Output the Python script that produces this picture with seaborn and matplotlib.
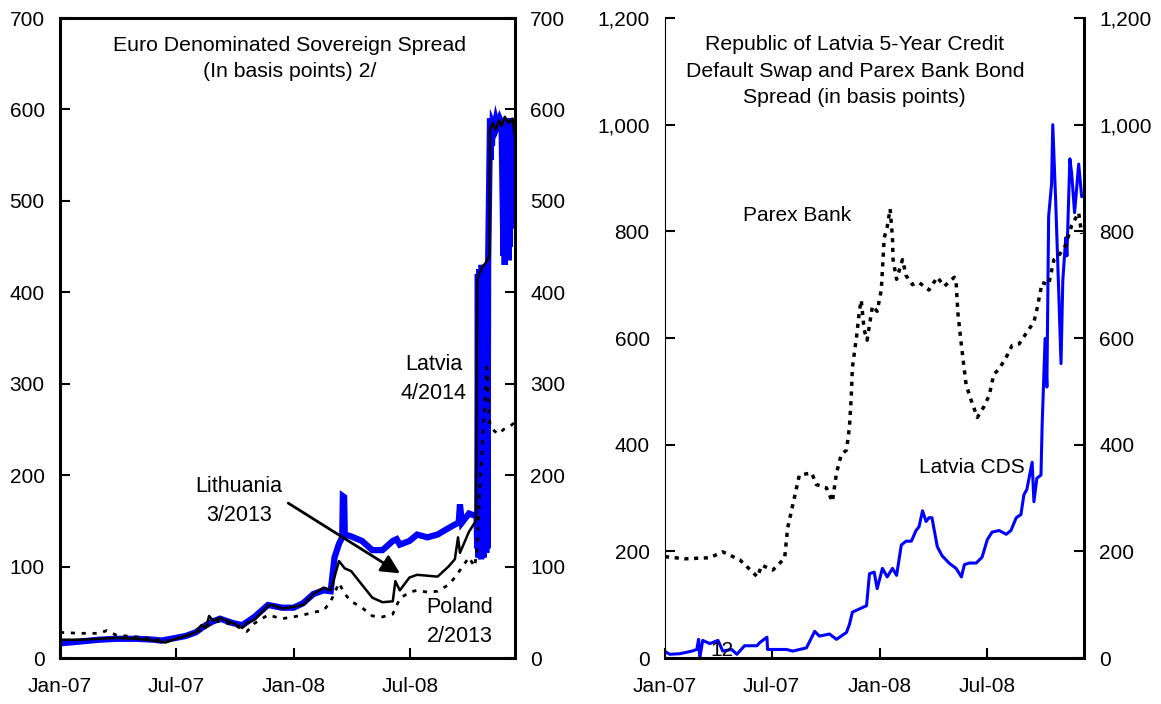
import pandas as pd
import matplotlib.pyplot as plt
import matplotlib.dates as mdates
from matplotlib.ticker import FuncFormatter
import seaborn as sns

# Left panel: euro denominated sovereign spreads (basis points)
lv_dates = [
    "2007-01-01", "2007-02-01", "2007-03-03", "2007-03-30", "2007-05-01", "2007-05-28", "2007-06-08", "2007-07-01", "2007-07-16", "2007-08-01",
    "2007-08-17", "2007-08-28", "2007-09-08", "2007-09-29", "2007-10-13", "2007-11-01", "2007-11-22", "2007-12-14", "2008-01-01", "2008-01-16",
    "2008-02-01", "2008-02-17", "2008-02-28", "2008-03-05", "2008-03-12", "2008-03-17", "2008-03-18", "2008-03-20", "2008-03-21", "2008-03-31",
    "2008-04-17", "2008-05-03", "2008-05-19", "2008-06-04", "2008-06-10", "2008-06-15", "2008-06-30", "2008-07-12", "2008-07-28", "2008-08-13",
    "2008-08-30", "2008-09-09", "2008-09-15", "2008-09-17", "2008-09-20", "2008-10-01", "2008-10-13", "2008-10-14", "2008-10-15", "2008-10-16",
    "2008-10-17", "2008-10-20", "2008-10-21", "2008-10-22", "2008-10-23", "2008-10-24", "2008-10-27", "2008-10-28", "2008-10-29", "2008-10-30",
    "2008-10-31", "2008-11-03", "2008-11-04", "2008-11-05", "2008-11-06", "2008-11-07", "2008-11-10", "2008-11-12", "2008-11-14", "2008-11-18",
    "2008-11-21", "2008-11-24", "2008-11-25", "2008-11-26", "2008-11-27", "2008-11-28", "2008-12-01", "2008-12-02", "2008-12-03", "2008-12-04",
    "2008-12-05", "2008-12-08", "2008-12-09", "2008-12-10", "2008-12-12"]
lv_bp = [
    16, 18, 20, 21, 21, 20, 19, 22, 24, 28,
    36, 40, 43, 38, 36, 45, 58, 55, 55, 60,
    70, 74, 73, 110, 125, 132, 177, 176, 135, 133,
    128, 118, 118, 128, 130, 124, 128, 135, 132, 135,
    142, 146, 148, 168, 148, 158, 155, 120, 420, 110,
    425, 108, 430, 112, 425, 110, 430, 115, 420, 120,
    430, 590, 545, 588, 560, 585, 580, 588, 582, 590,
    585, 440, 590, 430, 588, 440, 590, 435, 585, 450,
    590, 470, 585, 580, 575]

lt_dates = [
    "2007-01-01", "2007-02-01", "2007-03-03", "2007-03-30", "2007-05-01", "2007-05-28", "2007-06-15", "2007-07-01", "2007-07-16", "2007-08-01",
    "2007-08-10", "2007-08-17", "2007-08-22", "2007-08-28", "2007-09-08", "2007-09-29", "2007-10-13", "2007-10-20", "2007-11-01", "2007-11-22",
    "2007-11-28", "2007-12-14", "2008-01-01", "2008-01-16", "2008-02-01", "2008-02-17", "2008-02-28", "2008-03-12", "2008-03-21", "2008-03-31",
    "2008-04-17", "2008-05-03", "2008-05-19", "2008-06-04", "2008-06-08", "2008-06-15", "2008-06-30", "2008-07-12", "2008-07-28", "2008-08-13",
    "2008-08-30", "2008-09-09", "2008-09-14", "2008-09-17", "2008-10-01", "2008-10-10", "2008-10-12", "2008-10-14", "2008-10-17", "2008-10-22",
    "2008-10-27", "2008-11-02", "2008-11-03", "2008-11-07", "2008-11-12", "2008-11-17", "2008-11-21", "2008-11-26", "2008-12-02", "2008-12-08",
    "2008-12-12"]
lt_bp = [
    20, 20, 21, 22, 21, 19, 17, 21, 24, 28,
    36, 33, 46, 41, 44, 38, 33, 38, 42, 57,
    58, 54, 56, 58, 70, 77, 74, 106, 98, 95,
    80, 66, 61, 62, 84, 74, 88, 91, 90, 89,
    100, 108, 132, 115, 138, 148, 150, 415, 420, 428,
    432, 440, 578, 585, 578, 588, 582, 592, 585, 590,
    570]

pl_dates = [
    "2007-01-01", "2007-02-01", "2007-03-03", "2007-03-15", "2007-03-30", "2007-05-01", "2007-05-28", "2007-06-15", "2007-07-01", "2007-07-16",
    "2007-08-01", "2007-08-17", "2007-08-28", "2007-09-08", "2007-09-29", "2007-10-13", "2007-10-20", "2007-11-01", "2007-11-22", "2007-12-14",
    "2008-01-01", "2008-01-16", "2008-02-01", "2008-02-17", "2008-02-28", "2008-03-12", "2008-03-21", "2008-03-31", "2008-04-17", "2008-05-03",
    "2008-05-19", "2008-06-04", "2008-06-15", "2008-06-30", "2008-07-12", "2008-07-28", "2008-08-13", "2008-08-30", "2008-09-09", "2008-09-17",
    "2008-10-01", "2008-10-10", "2008-10-14", "2008-10-18", "2008-10-23", "2008-10-29", "2008-11-01", "2008-11-03", "2008-11-10", "2008-11-17",
    "2008-11-24", "2008-12-01", "2008-12-07", "2008-12-12"]
pl_bp = [
    28, 27, 27, 30, 25, 23, 21, 18, 21, 24,
    28, 33, 40, 40, 36, 32, 29, 38, 47, 43,
    45, 47, 50, 52, 62, 82, 70, 62, 55, 46,
    45, 48, 65, 72, 74, 72, 73, 80, 88, 96,
    110, 100, 120, 184, 246, 318, 270, 255, 248, 245,
    250, 252, 255, 258]

# Right panel: Parex Bank bond spread and Latvia 5-year CDS (basis points)
parex_dates = [
    "2007-01-01", "2007-02-04", "2007-03-18", "2007-04-09", "2007-05-08", "2007-06-07", "2007-06-14", "2007-07-03", "2007-07-23", "2007-07-28",
    "2007-08-17", "2007-09-07", "2007-09-15", "2007-10-02", "2007-10-12", "2007-10-19", "2007-10-27", "2007-11-05", "2007-11-10", "2007-11-13",
    "2007-11-15", "2007-11-22", "2007-11-27", "2007-11-30", "2007-12-05", "2007-12-10", "2007-12-19", "2007-12-27", "2008-01-03", "2008-01-08",
    "2008-01-13", "2008-01-18", "2008-01-22", "2008-01-23", "2008-01-29", "2008-02-08", "2008-02-14", "2008-02-25", "2008-03-07", "2008-03-24",
    "2008-04-07", "2008-04-19", "2008-05-06", "2008-05-09", "2008-05-12", "2008-05-18", "2008-05-26", "2008-06-03", "2008-06-14", "2008-06-25",
    "2008-07-04", "2008-07-12", "2008-07-21", "2008-08-03", "2008-08-12", "2008-08-24", "2008-09-05", "2008-09-18", "2008-09-23", "2008-10-02",
    "2008-10-13", "2008-10-22", "2008-10-30", "2008-11-11", "2008-11-21", "2008-12-03", "2008-12-08"]
parex_bp = [
    190, 186, 188, 199, 184, 152, 174, 165, 187, 243,
    343, 347, 325, 319, 293, 347, 381, 390, 433, 489,
    545, 602, 652, 671, 615, 596, 660, 650, 690, 788,
    808, 842, 788, 747, 710, 747, 717, 700, 704, 690,
    714, 697, 714, 704, 647, 586, 512, 485, 451, 471,
    492, 532, 542, 566, 586, 589, 609, 630, 653, 704,
    700, 747, 754, 774, 811, 835, 795]

cds_dates = [
    "2007-01-01", "2007-01-09", "2007-01-26", "2007-02-16", "2007-02-24", "2007-02-27", "2007-03-01", "2007-03-06", "2007-03-18", "2007-04-01",
    "2007-04-09", "2007-04-24", "2007-05-03", "2007-05-16", "2007-06-06", "2007-06-11", "2007-06-23", "2007-06-24", "2007-07-26", "2007-08-06",
    "2007-08-29", "2007-09-12", "2007-09-20", "2007-10-07", "2007-10-19", "2007-11-05", "2007-11-10", "2007-11-15", "2007-11-27", "2007-12-09",
    "2007-12-14", "2007-12-22", "2007-12-27", "2008-01-05", "2008-01-13", "2008-01-22", "2008-01-29", "2008-02-06", "2008-02-14", "2008-02-23",
    "2008-03-02", "2008-03-07", "2008-03-13", "2008-03-19", "2008-03-24", "2008-03-29", "2008-04-07", "2008-04-15", "2008-04-27", "2008-05-09",
    "2008-05-18", "2008-05-23", "2008-05-31", "2008-06-12", "2008-06-22", "2008-07-01", "2008-07-09", "2008-07-21", "2008-08-02", "2008-08-10",
    "2008-08-19", "2008-08-27", "2008-09-01", "2008-09-06", "2008-09-15", "2008-09-18", "2008-09-23", "2008-09-30", "2008-10-02", "2008-10-07",
    "2008-10-10", "2008-10-13", "2008-10-18", "2008-10-20", "2008-10-25", "2008-10-30", "2008-11-03", "2008-11-06", "2008-11-11", "2008-11-13",
    "2008-11-18", "2008-11-21", "2008-11-26", "2008-12-03", "2008-12-08"]
cds_bp = [
    12, 7, 8, 13, 16, 35, 0, 33, 27, 33,
    13, 16, 7, 23, 23, 29, 39, 16, 16, 13,
    19, 50, 41, 45, 35, 48, 63, 86, 92, 98,
    158, 161, 130, 168, 152, 168, 155, 212, 219, 219,
    239, 246, 276, 256, 263, 263, 209, 192, 178, 168,
    152, 175, 178, 178, 189, 222, 236, 239, 232, 239,
    263, 269, 306, 316, 367, 293, 337, 343, 438, 599,
    508, 828, 889, 1000, 855, 690, 552, 707, 788, 754,
    936, 909, 835, 926, 865]


def frame(dates, values):
    return pd.DataFrame({"date": pd.to_datetime(dates), "bp": values})


def style_axis(ax, ymax, step):
    ax.set_xlim(pd.Timestamp("2007-01-01"), pd.Timestamp("2008-12-12"))
    ax.set_ylim(0, ymax)
    ax.set_yticks(range(0, ymax + 1, step))
    ax.yaxis.set_major_formatter(FuncFormatter(lambda v, p: f"{int(v):,}"))
    ax.xaxis.set_major_locator(mdates.MonthLocator(bymonth=[1, 7]))
    ax.xaxis.set_major_formatter(mdates.DateFormatter("%b-%y"))
    ax.tick_params(axis="y", direction="in", left=True, right=True,
                   labelleft=True, labelright=True, length=7, width=1.5,
                   pad=11, labelsize=15, colors="black")
    ax.tick_params(axis="x", direction="in", bottom=True, top=False,
                   length=7, width=1.5, pad=14, labelsize=15, colors="black")
    ax.set_xlabel("")
    ax.set_ylabel("")


sns.set_style("white")
plt.rcParams["font.family"] = ["Liberation Sans", "DejaVu Sans"]
plt.rcParams["text.color"] = "black"

fig = plt.figure(figsize=(11.61, 7.04), dpi=100)
ax1 = fig.add_axes([60 / 1161, 46 / 704, 455 / 1161, 640 / 704])
ax2 = fig.add_axes([665 / 1161, 46 / 704, 419 / 1161, 640 / 704])

# left panel
sns.lineplot(data=frame(lv_dates, lv_bp), x="date", y="bp", ax=ax1,
             color="#0000ff", lw=4.5, solid_joinstyle="miter")
sns.lineplot(data=frame(lt_dates, lt_bp), x="date", y="bp", ax=ax1,
             color="black", lw=1.8)
sns.lineplot(data=frame(pl_dates, pl_bp), x="date", y="bp", ax=ax1,
             color="black", lw=2, linestyle=(0, (1.5, 2.4)))
style_axis(ax1, 700, 100)
for side in ["left", "right", "top", "bottom"]:
    ax1.spines[side].set_linewidth(2.2)
    ax1.spines[side].set_color("black")

ax1.text(0.505, 0.937, "Euro Denominated Sovereign Spread\n(In basis points) 2/",
         transform=ax1.transAxes, ha="center", va="center", fontsize=15.3,
         linespacing=1.5)
ax1.text(pd.Timestamp("2008-08-07"), 305, "Latvia\n4/2014", ha="center",
         va="center", fontsize=15.5, linespacing=1.5)
ax1.text(pd.Timestamp("2007-10-08"), 172, "Lithuania\n3/2013", ha="center",
         va="center", fontsize=15.5, linespacing=1.5)
ax1.text(pd.Timestamp("2008-09-17"), 39, "Poland\n2/2013", ha="center",
         va="center", fontsize=15.5, linespacing=1.5)
ax1.annotate("", xy=(pd.Timestamp("2008-06-19"), 91),
             xytext=(pd.Timestamp("2007-12-20"), 171),
             arrowprops=dict(arrowstyle="-|>", color="black", lw=2,
                             mutation_scale=28))

# right panel
sns.lineplot(data=frame(cds_dates, cds_bp), x="date", y="bp", ax=ax2,
             color="#0000ff", lw=2.2)
sns.lineplot(data=frame(parex_dates, parex_bp), x="date", y="bp", ax=ax2,
             color="black", lw=2.5, linestyle=(0, (1.2, 1.6)))
style_axis(ax2, 1200, 200)
ax2.spines["top"].set_visible(False)
ax2.spines["left"].set_linewidth(0.8)
ax2.spines["left"].set_color("black")
for side in ["right", "bottom"]:
    ax2.spines[side].set_linewidth(2.2)
    ax2.spines[side].set_color("black")

ax2.text(0.453, 0.917, "Republic of Latvia 5-Year Credit\nDefault Swap and Parex Bank Bond\nSpread (in basis points)",
         transform=ax2.transAxes, ha="center", va="center", fontsize=15.3,
         linespacing=1.5)
ax2.text(pd.Timestamp("2007-08-14"), 830, "Parex Bank", ha="center",
         va="center", fontsize=15)
ax2.text(pd.Timestamp("2008-06-04"), 358, "Latvia CDS", ha="center",
         va="center", fontsize=15)
ax2.text(pd.Timestamp("2007-04-07"), 14, "12", ha="center", va="center",
         fontsize=15)

fig.savefig("out.png", dpi=100, facecolor="white")
